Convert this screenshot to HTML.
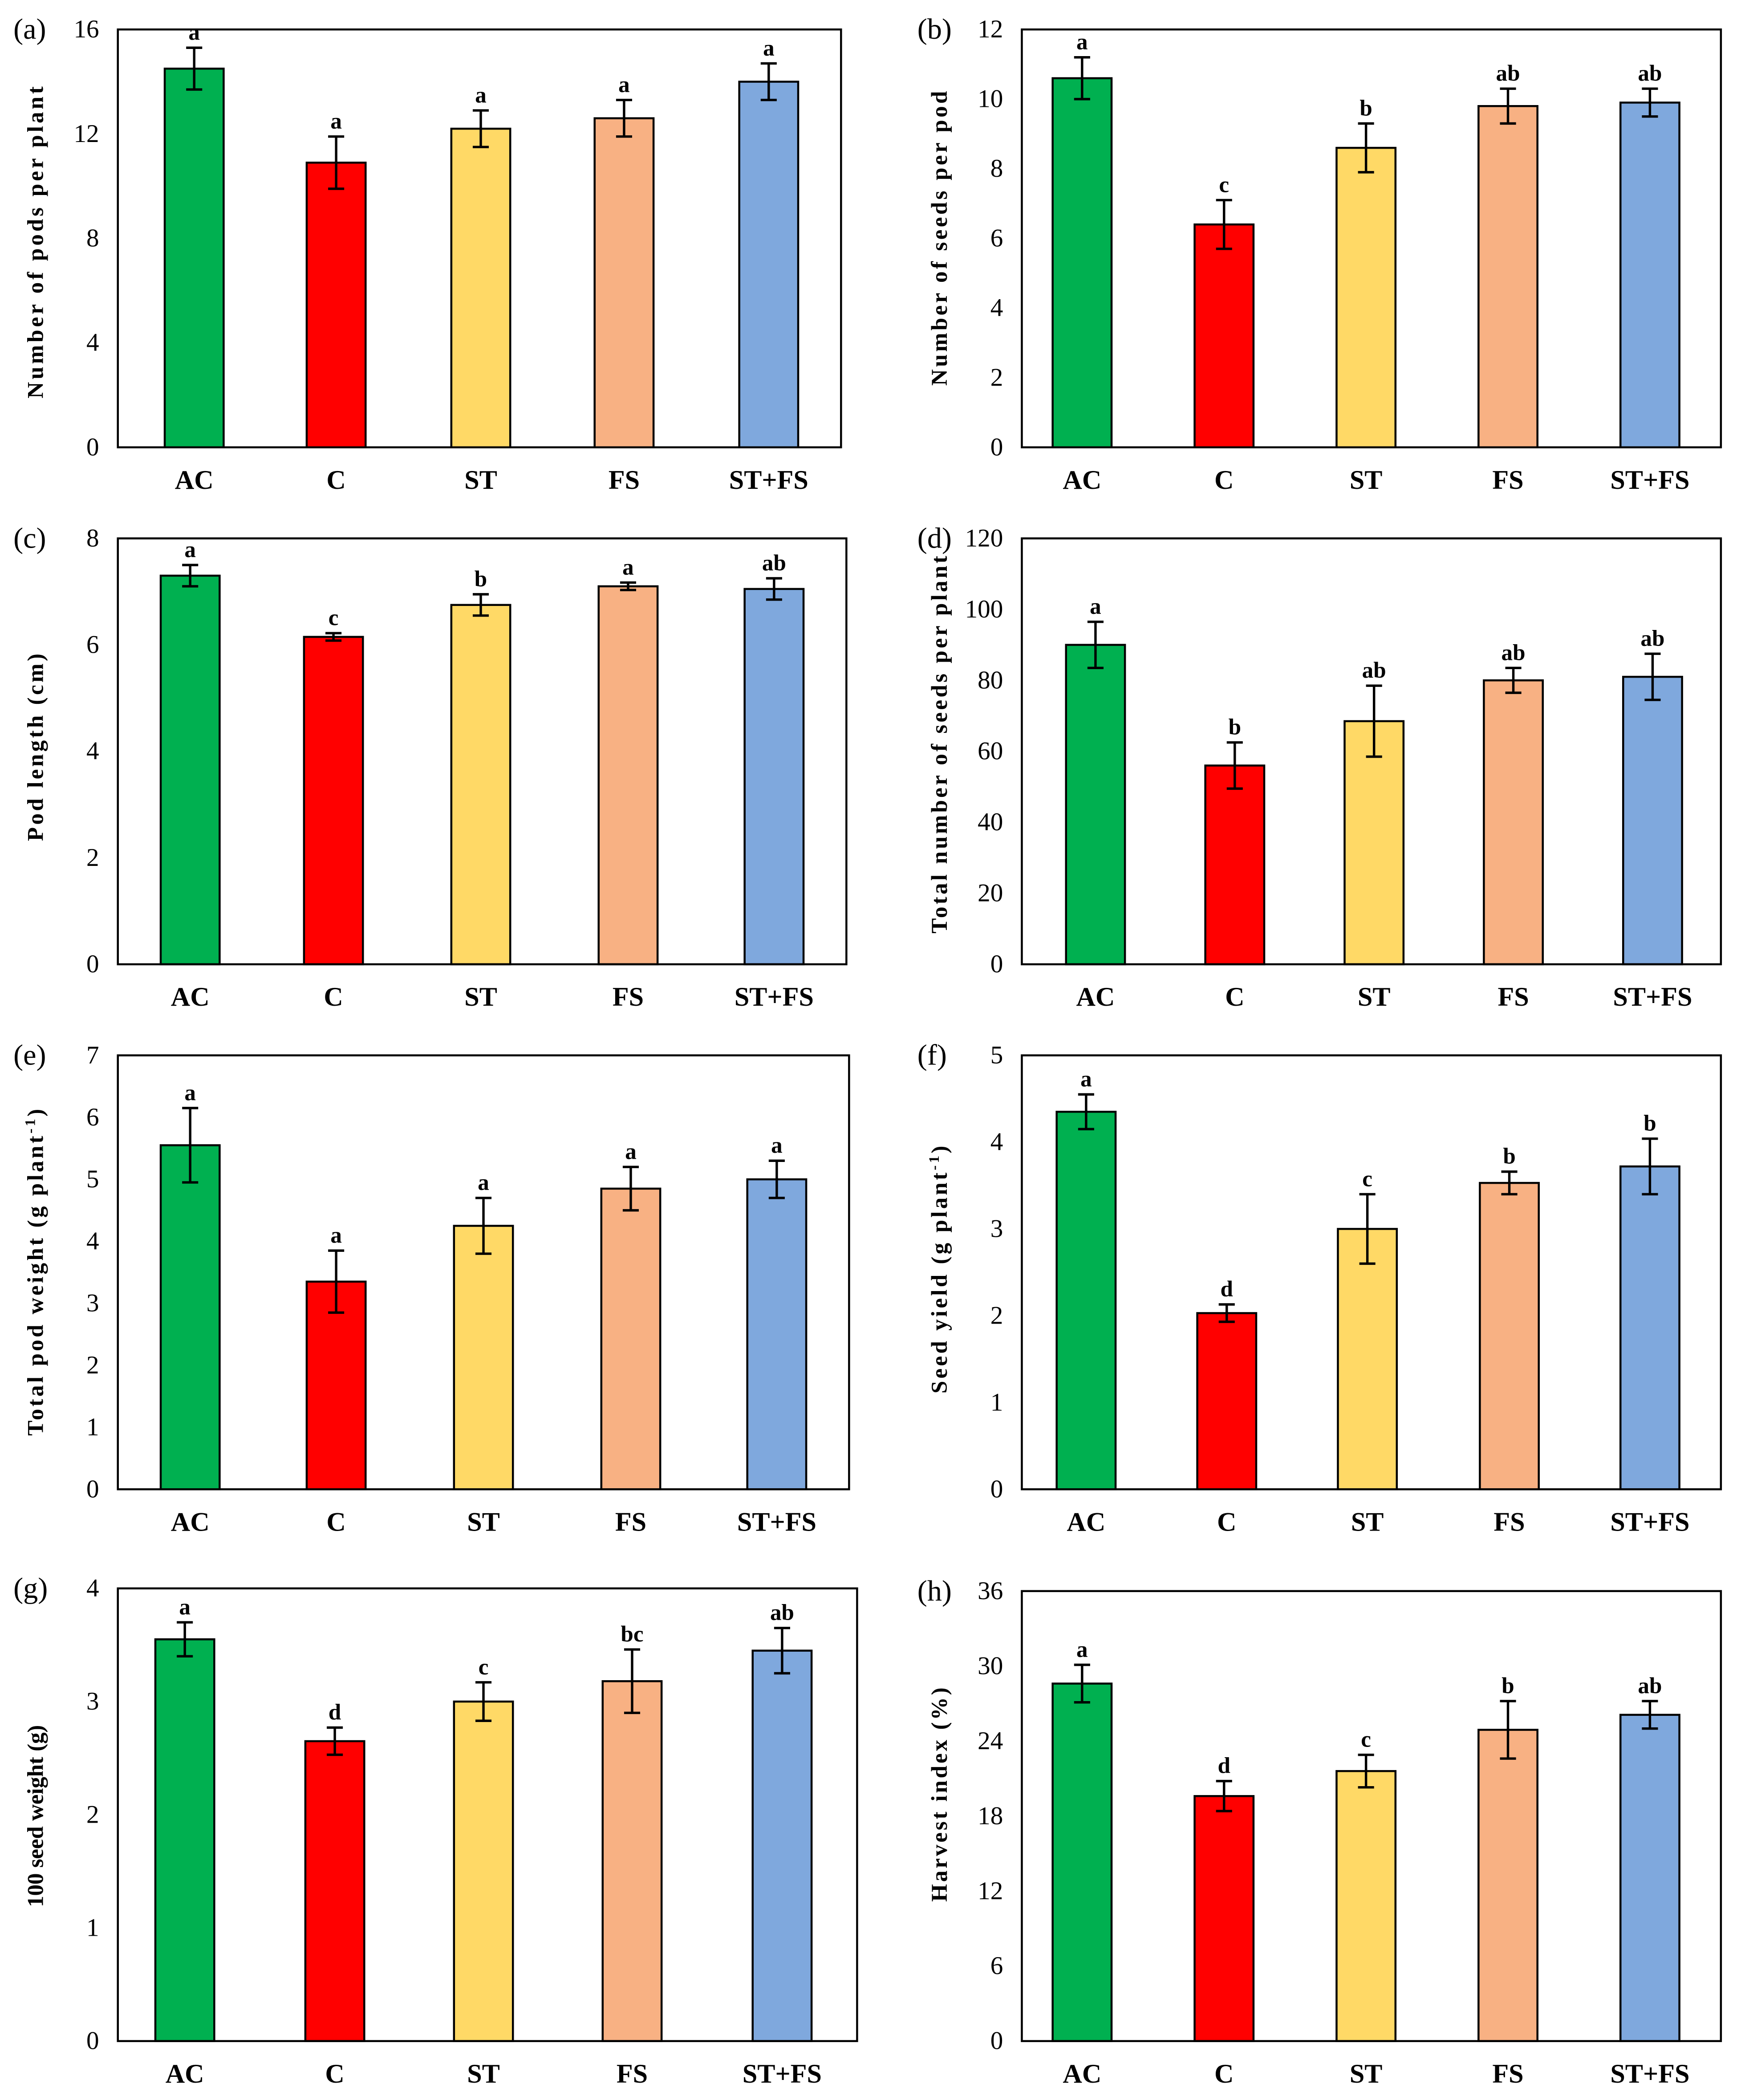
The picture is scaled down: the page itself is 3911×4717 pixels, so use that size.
<!DOCTYPE html>
<html><head><meta charset="utf-8"><style>
html,body{margin:0;padding:0;background:#fff;}
svg{display:block;font-family:"Liberation Serif",serif;}
</style></head><body>
<svg id="fig" width="3911" height="4717" viewBox="0 0 1300 1568" preserveAspectRatio="none" xmlns="http://www.w3.org/2000/svg"></svg>
<script>
const categories = ["AC","C","ST","FS","ST+FS"];
const colors = ["#00B050","#FF0000","#FFD966","#F8B183","#7FA8DD"];
const valsA = [14.5,10.9,12.2,12.6,14.0];
const errA = [0.8,1.0,0.7,0.7,0.7];
const letA = ["a","a","a","a","a"];
const ticksA = [0,4,8,12,16];
const valsB = [10.6,6.4,8.6,9.8,9.9];
const errB = [0.6,0.7,0.7,0.5,0.4];
const letB = ["a","c","b","ab","ab"];
const ticksB = [0,2,4,6,8,10,12];
const valsC = [7.3,6.15,6.75,7.1,7.05];
const errC = [0.2,0.07,0.2,0.07,0.2];
const letC = ["a","c","b","a","ab"];
const ticksC = [0,2,4,6,8];
const valsD = [90,56,68.5,80,81];
const errD = [6.5,6.5,10,3.5,6.5];
const letD = ["a","b","ab","ab","ab"];
const ticksD = [0,20,40,60,80,100,120];
const valsE = [5.55,3.35,4.25,4.85,5.0];
const errE = [0.6,0.5,0.45,0.35,0.3];
const letE = ["a","a","a","a","a"];
const ticksE = [0,1,2,3,4,5,6,7];
const valsF = [4.35,2.03,3.0,3.53,3.72];
const errF = [0.2,0.1,0.4,0.13,0.32];
const letF = ["a","d","c","b","b"];
const ticksF = [0,1,2,3,4,5];
const valsG = [3.55,2.65,3.0,3.18,3.45];
const errG = [0.15,0.12,0.17,0.28,0.2];
const letG = ["a","d","c","bc","ab"];
const ticksG = [0,1,2,3,4];
const valsH = [28.6,19.6,21.6,24.9,26.1];
const errH = [1.5,1.2,1.3,2.3,1.1];
const letH = ["a","d","c","b","ab"];
const ticksH = [0,6,12,18,24,30,36];

const NS="http://www.w3.org/2000/svg";
const svg=document.getElementById('fig');
function mk(tag,attrs,parent){const e=document.createElementNS(NS,tag);for(const k in attrs)e.setAttribute(k,attrs[k]);(parent||svg).appendChild(e);return e;}

function panel(id,box,centers,vals,errs,lets,ticks,ylab,ylabSup,labLen,labCy){
  const g=mk('g',{});
  
  
  const [x0,y0,x1,y1]=box;
  const max=ticks[ticks.length-1];
  const ys=v=>y1-(v/max)*(y1-y0);
  const bw=44;
  for(let i=0;i<vals.length;i++){
    const cx=centers[i];
    const r=mk('rect',{x:cx-bw/2,y:ys(vals[i]),width:bw,height:y1-ys(vals[i]),fill:colors[i],stroke:'#000','stroke-width':1.5},g);
    
    
    const t=ys(vals[i]+errs[i]),b=ys(vals[i]-errs[i]);
    const eb=mk('path',{d:`M${cx},${t}V${b}M${cx-6},${t}H${cx+6}M${cx-6},${b}H${cx+6}`,stroke:'#000','stroke-width':1.8,fill:'none'},g);
    
    
    const lt=mk('text',{x:cx,y:t-6,'text-anchor':'middle','font-size':17,'font-weight':'bold'},g);
    lt.textContent=lets[i];
    
    
    const xl=mk('text',{x:cx,y:y1+31,'text-anchor':'middle','font-size':20,'font-weight':'bold'},g);
    xl.textContent=categories[i];
    
    
  }
  const fr=mk('rect',{x:x0,y:y0,width:x1-x0,height:y1-y0,fill:'none',stroke:'#000','stroke-width':1.5},g);
  
  
  ticks.forEach(tv=>{
    const tt=mk('text',{x:x0-14,y:ys(tv)+6,'text-anchor':'end','font-size':19},g);
    tt.textContent=tv;
    
    
  });
  const pl=mk('text',{x:x0-78,y:y0+7,'font-size':22},g);
  pl.textContent='('+id+')';
  
  
  const ly=labCy, lx=x0-56;
  const yl=mk('text',{x:lx,y:ly,'text-anchor':'middle','font-size':17,'font-weight':'bold',textLength:labLen,lengthAdjust:'spacing',transform:`rotate(-90 ${lx} ${ly})`},g);
  yl.textContent=ylab;
  if(ylabSup){
    const s=mk('tspan',{'baseline-shift':'super','font-size':11},yl);s.textContent='-1';
    const s2=mk('tspan',{},yl);s2.textContent=')';
  }
  
  
}
panel('a',[88,22,628,334],[145,251,359,466,574],valsA,errA,letA,ticksA,'Number of pods per plant',false,233,181);
panel('b',[763,22,1285,334],[808,914,1020,1126,1232],valsB,errB,letB,ticksB,'Number of seeds per pod',false,220,178);
panel('c',[88,402,632,720],[142,249,359,469,578],valsC,errC,letC,ticksC,'Pod length (cm)',false,140,558);
panel('d',[763,402,1285,720],[818,922,1026,1130,1234],valsD,errD,letD,ticksD,'Total number of seeds per plant',false,282,556);
panel('e',[88,788,634,1112],[142,251,361,471,580],valsE,errE,letE,ticksE,'Total pod weight (g plant',true,244,950);
panel('f',[763,788,1285,1112],[811,916,1021,1127,1232],valsF,errF,letF,ticksF,'Seed yield (g plant',true,185,948);
panel('g',[88,1186,640,1524],[138,250,361,472,584],valsG,errG,letG,ticksG,'100 seed weight (g)',false,136,1356);
panel('h',[763,1188,1285,1524],[808,914,1020,1126,1232],valsH,errH,letH,ticksH,'Harvest index (%)',false,160,1340);
</script>
</body></html>
